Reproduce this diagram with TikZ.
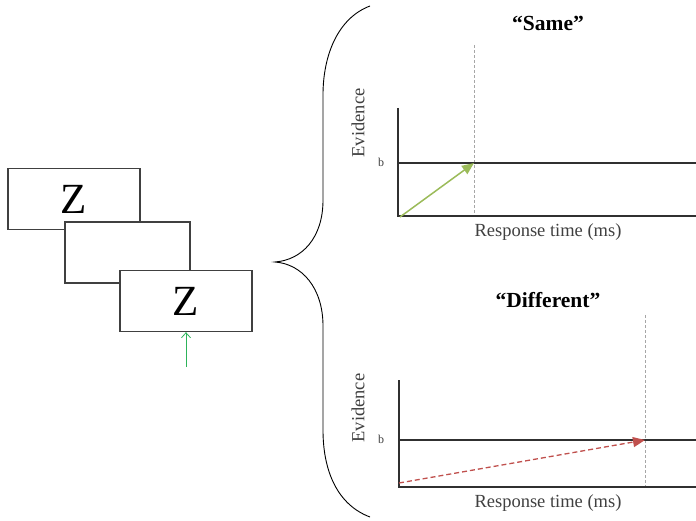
\documentclass[tikz,border=0pt]{standalone}
\usepackage{fontspec}
\setmainfont{Liberation Serif}
\usetikzlibrary{arrows.meta}
\definecolor{boxgray}{HTML}{404040}
\definecolor{axisgray}{HTML}{303030}
\definecolor{dashgray}{HTML}{A6A6A6}
\definecolor{evgreen}{HTML}{9BBB59}
\definecolor{evred}{HTML}{C0504D}
\definecolor{cuegreen}{HTML}{2DB35A}
\begin{document}
\begin{tikzpicture}[x=1pt,y=-1pt,
  stim/.style={draw=boxgray,line width=1.3pt,fill=white,minimum width=132pt,minimum height=61pt,inner sep=0pt,font=\fontsize{43}{43}\selectfont},
  axisline/.style={draw=axisgray,line width=1.2pt},
  guide/.style={draw=dashgray,line width=0.7pt,dash pattern=on 3pt off 2pt},
  lbl/.style={text=boxgray,font=\fontsize{18.5}{18.5}\selectfont},
  blbl/.style={text=boxgray,font=\fontsize{12}{12}\selectfont},
  ttl/.style={font=\fontsize{21.5}{21.5}\selectfont\bfseries},
  samearrow/.style={draw=evgreen,line width=1.5pt,-{Triangle[length=12pt,width=10pt]}},
  diffarrow/.style={draw=evred,line width=1.3pt,dash pattern=on 5pt off 3pt,-{Triangle[length=12pt,width=10pt]}},
  cuearrow/.style={draw=cuegreen,line width=0.8pt,-{Straight Barb[length=5pt,width=9pt]}},
  bracepath/.style={draw=black,line width=0.9pt}
]
\useasboundingbox (0,0) rectangle (696,521);

% stimulus frames
\node[stim] (s1) at (74,199) {Z};
\node[stim,minimum width=125pt] (s2) at (127.5,252.5) {};
\node[stim] (s3) at (186,301) {Z};
\coordinate (cue) at (186,367);
\draw[cuearrow] (cue) -- (s3.south);

% brace
\draw[bracepath] (370,6) .. controls (338,18) and (323,55) .. (323,95)
  -- (323,200) .. controls (323,238) and (302,260) .. (275,262)
  .. controls (302,264) and (323,288) .. (323,326)
  -- (323,430) .. controls (323,472) and (338,505) .. (370,517);

% top plot (Same)
\coordinate (ta0) at (398,216);
\coordinate (tay) at (398,108);
\coordinate (tax) at (696,216);
\coordinate (tb0) at (398,163);
\coordinate (tb1) at (696,163);
\coordinate (td0) at (474,45);
\coordinate (td1) at (474,216);
\coordinate (tr0) at (400,217);
\coordinate (tr1) at (474,163);
\draw[guide] (td0) -- (td1);
\draw[axisline] (tay) -- (ta0) -- (tax);
\draw[axisline] (tb0) -- (tb1);
\draw[samearrow] (tr0) -- (tr1);
\node[ttl] (tt) at (548,23) {“Same”};
\node[lbl,rotate=90] (tev) at (358,123) {Evidence};
\node[blbl] (tbl) at (381,162) {b};
\node[lbl] (trt) at (548,232) {Response time (ms)};

% bottom plot (Different)
\coordinate (ba0) at (399,487);
\coordinate (bay) at (399,380);
\coordinate (bax) at (696,487);
\coordinate (bb0) at (399,440);
\coordinate (bb1) at (696,440);
\coordinate (bd0) at (645,315);
\coordinate (bd1) at (645,487);
\coordinate (br0) at (399,483);
\coordinate (br1) at (645,440);
\draw[guide] (bd0) -- (bd1);
\draw[axisline] (bay) -- (ba0) -- (bax);
\draw[axisline] (bb0) -- (bb1);
\draw[diffarrow] (br0) -- (br1);
\node[ttl] (bt) at (548,300) {“Different”};
\node[lbl,rotate=90] (bev) at (358,408) {Evidence};
\node[blbl] (bbl) at (381,439) {b};
\node[lbl] (brt) at (548,503) {Response time (ms)};
\end{tikzpicture}
\end{document}
